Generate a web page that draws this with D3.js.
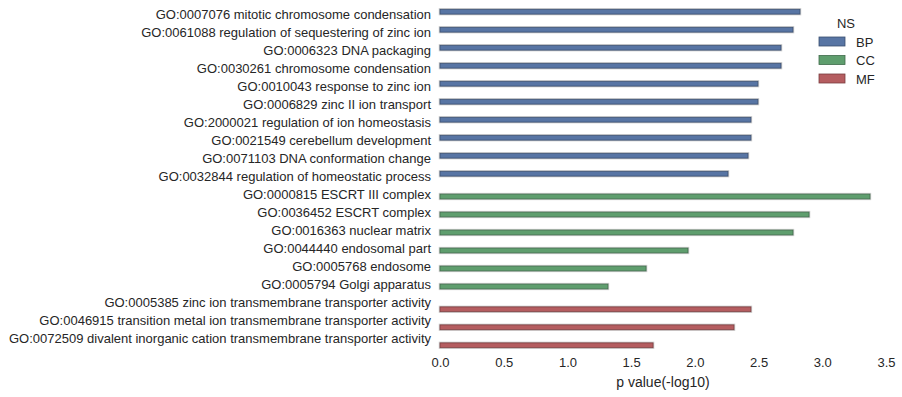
<!DOCTYPE html>
<html>
<head>
<meta charset="utf-8">
<script src="https://cdn.jsdelivr.net/npm/d3@7"></script>
<style>
  body { margin: 0; background: #fff; }
  text { font-family: "Liberation Sans", Arial, sans-serif; fill: #262626; }
</style>
</head>
<body>
<div id="chart"></div>
<script>
const terms = [
  "GO:0007076 mitotic chromosome condensation",
  "GO:0061088 regulation of sequestering of zinc ion",
  "GO:0006323 DNA packaging",
  "GO:0030261 chromosome condensation",
  "GO:0010043 response to zinc ion",
  "GO:0006829 zinc II ion transport",
  "GO:2000021 regulation of ion homeostasis",
  "GO:0021549 cerebellum development",
  "GO:0071103 DNA conformation change",
  "GO:0032844 regulation of homeostatic process",
  "GO:0000815 ESCRT III complex",
  "GO:0036452 ESCRT complex",
  "GO:0016363 nuclear matrix",
  "GO:0044440 endosomal part",
  "GO:0005768 endosome",
  "GO:0005794 Golgi apparatus",
  "GO:0005385 zinc ion transmembrane transporter activity",
  "GO:0046915 transition metal ion transmembrane transporter activity",
  "GO:0072509 divalent inorganic cation transmembrane transporter activity"
];
const pvals = [2.825, 2.77, 2.676, 2.676, 2.495, 2.495, 2.44, 2.44, 2.417, 2.26,
               3.374, 2.896, 2.77, 1.946, 1.617, 1.318,
               2.44, 2.307, 1.672];
const ns = ["BP","BP","BP","BP","BP","BP","BP","BP","BP","BP",
            "CC","CC","CC","CC","CC","CC",
            "MF","MF","MF"];
const groups = ["BP", "CC", "MF"];
const colors = ["#5875a4", "#5f9e6e", "#b55d60"];
const edges = ["#3b4f6f", "#3f6a4a", "#7a3e40"];
const xTicks = [0, 0.5, 1, 1.5, 2, 2.5, 3, 3.5];

const width = 902, height = 397;
const margin = { left: 440, right: 16, top: 7.5, bottom: 47.5 };

const svg = d3.select('#chart').append('svg')
  .attr('width', width).attr('height', height);

const x = d3.scaleLinear().domain([0, 3.5]).range([margin.left, width - margin.right]);
const y = d3.scaleBand().domain(terms).range([margin.top, height - margin.bottom]).padding(0);
const hue = d3.scaleBand().domain(groups).range([0, y.bandwidth()]).paddingOuter(0.375).paddingInner(0);
const color = d3.scaleOrdinal().domain(groups).range(colors);
const edge = d3.scaleOrdinal().domain(groups).range(edges);

const data = terms.map((t, i) => ({ term: t, p: pvals[i], ns: ns[i] }));

// soft gray outline then bar
svg.append('g').selectAll('rect')
  .data(data).enter().append('rect')
  .attr('x', x(0) - 0.5)
  .attr('y', d => y(d.term) + hue(d.ns) - 0.5)
  .attr('width', d => x(d.p) - x(0) + 1)
  .attr('height', hue.bandwidth() + 1)
  .attr('fill', 'none')
  .attr('stroke', '#cfcfcf')
  .attr('stroke-width', 1.5);

svg.append('g').selectAll('rect')
  .data(data).enter().append('rect')
  .attr('x', x(0))
  .attr('y', d => y(d.term) + hue(d.ns))
  .attr('width', d => x(d.p) - x(0))
  .attr('height', hue.bandwidth())
  .attr('fill', d => color(d.ns))
  .attr('stroke', d => edge(d.ns))
  .attr('stroke-width', 0.8);

// y axis labels
const yAxis = svg.append('g')
  .attr('transform', `translate(${margin.left},0)`)
  .call(d3.axisLeft(y).tickSize(0).tickPadding(9));
yAxis.select('.domain').remove();
yAxis.selectAll('text').style('font-size', '13px').attr('dy', '0.2em').attr('fill', '#262626');

// x axis
const xAxis = svg.append('g')
  .attr('transform', `translate(0,${height - margin.bottom})`)
  .call(d3.axisBottom(x).tickValues(xTicks).tickFormat(d3.format('.1f')).tickSize(0).tickPadding(8));
xAxis.select('.domain').remove();
xAxis.selectAll('text').style('font-size', '13px').attr('fill', '#262626');

svg.append('text')
  .attr('x', (x(0) + x(3.5)) / 2)
  .attr('y', 387)
  .attr('text-anchor', 'middle')
  .style('font-size', '14px')
  .text('p value(-log10)');

// legend
const legend = svg.append('g');
legend.append('text')
  .attr('x', 846).attr('y', 28)
  .attr('text-anchor', 'middle')
  .style('font-size', '13px')
  .text('NS');
const items = legend.selectAll('g.item')
  .data(groups).enter().append('g')
  .attr('transform', (d, i) => `translate(819,${37 + i * 18.5})`);
items.append('rect')
  .attr('width', 26).attr('height', 9)
  .attr('fill', d => color(d))
  .attr('stroke', d => edge(d))
  .attr('stroke-width', 0.8);
items.append('text')
  .attr('x', 37).attr('y', 9.5)
  .style('font-size', '13px')
  .text(d => d);
</script>
</body>
</html>
